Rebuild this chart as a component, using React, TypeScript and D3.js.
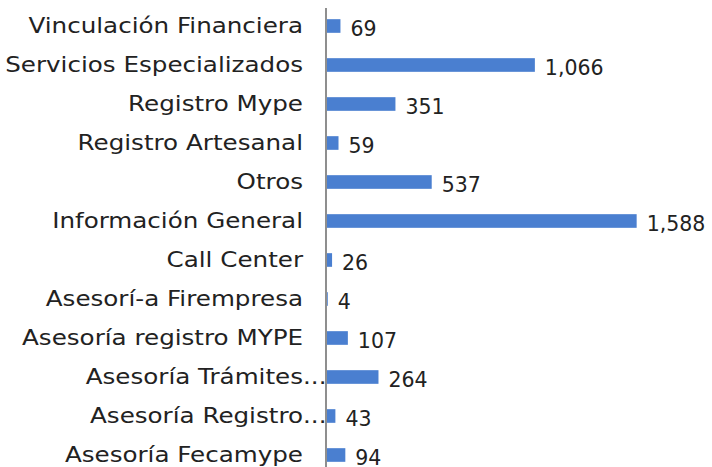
import React from "react";
import * as d3 from "d3";

const categories = [
  "Vinculación Financiera",
  "Servicios Especializados",
  "Registro Mype",
  "Registro Artesanal",
  "Otros",
  "Información General",
  "Call Center",
  "Asesorí-a Firempresa",
  "Asesoría registro MYPE",
  "Asesoría Trámites",
  "Asesoría Registro",
  "Asesoría Fecamype",
];
const truncated = [false, false, false, false, false, false, false, false, false, true, true, false];
const values = [69, 1066, 351, 59, 537, 1588, 26, 4, 107, 264, 43, 94];

const W = 712;
const H = 467;
const FONT = "'DejaVu Sans', sans-serif";
const FS = 20.5;

export default function App() {
  const x = d3.scaleLinear().domain([0, 1600]).range([327, 639]);
  const y = d3
    .scaleBand<string>()
    .domain(categories)
    .range([6.5, 474.5])
    .paddingInner(0.65)
    .paddingOuter(0.325);
  const fmt = d3.format(",");
  const labelX = 303;

  return (
    <svg
      width={W}
      height={H}
      style={{ position: "absolute", left: 0, top: 0, background: "#fff" }}
    >
      {categories.map((c, i) => {
        const cy = (y(c) as number) + y.bandwidth() / 2;
        return (
          <g key={c}>
            <rect
              x={x(0)}
              y={y(c)}
              width={x(values[i]) - x(0)}
              height={y.bandwidth()}
              fill="#4a7fd0"
            />
            <g transform={`translate(${labelX},${cy}) scale(1.2,1)`}>
              <text
                x={0}
                y={0}
                dy="0.36em"
                textAnchor="end"
                fontFamily={FONT}
                fontSize={FS}
                fill="#222"
              >
                {c}
              </text>
              {truncated[i] && (
                <text
                  x={0}
                  y={0}
                  dy="0.36em"
                  textAnchor="start"
                  fontFamily={FONT}
                  fontSize={FS}
                  fill="#222"
                >
                  ...
                </text>
              )}
            </g>
            <text
              x={x(values[i]) + 10}
              y={cy}
              dy="0.48em"
              textAnchor="start"
              fontFamily={FONT}
              fontSize={FS}
              fill="#222"
            >
              {fmt(values[i])}
            </text>
          </g>
        );
      })}
      <line x1={326} x2={326} y1={8} y2={H} stroke="#444" strokeWidth={1.2} />
    </svg>
  );
}
